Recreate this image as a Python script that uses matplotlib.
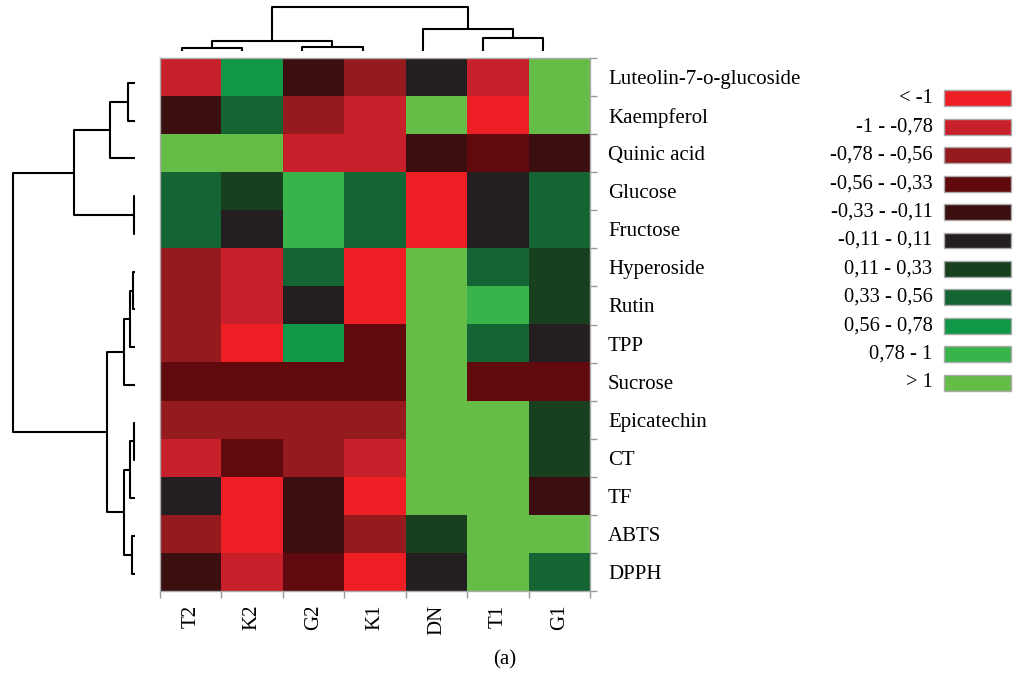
import numpy as np
import matplotlib.pyplot as plt
from matplotlib.colors import ListedColormap, BoundaryNorm
from matplotlib.patches import Rectangle

# Heatmap data (z-scores, read from picture as bin estimates)
samples = ['T2', 'K2', 'G2', 'K1', 'DN', 'T1', 'G1']
compounds = ['Luteolin-7-o-glucoside', 'Kaempferol', 'Quinic acid', 'Glucose',
             'Fructose', 'Hyperoside', 'Rutin', 'TPP', 'Sucrose', 'Epicatechin',
             'CT', 'TF', 'ABTS', 'DPPH']

luteolin = [-0.9, 0.67, -0.22, -0.67, 0.0, -0.9, 1.3]
kaempferol = [-0.22, 0.45, -0.67, -0.9, 1.3, -1.3, 1.3]
quinic = [1.3, 1.3, -0.9, -0.9, -0.22, -0.45, -0.22]
glucose = [0.45, 0.22, 0.9, 0.45, -1.3, 0.0, 0.45]
fructose = [0.45, 0.0, 0.9, 0.45, -1.3, 0.0, 0.45]
hyperoside = [-0.67, -0.9, 0.45, -1.3, 1.3, 0.45, 0.22]
rutin = [-0.67, -0.9, 0.0, -1.3, 1.3, 0.9, 0.22]
tpp = [-0.67, -1.3, 0.67, -0.45, 1.3, 0.45, 0.0]
sucrose = [-0.45, -0.45, -0.45, -0.45, 1.3, -0.45, -0.45]
epicatechin = [-0.67, -0.67, -0.67, -0.67, 1.3, 1.3, 0.22]
ct = [-0.9, -0.45, -0.67, -0.9, 1.3, 1.3, 0.22]
tf = [0.0, -1.3, -0.22, -1.3, 1.3, 1.3, -0.22]
abts = [-0.67, -1.3, -0.22, -0.67, 0.22, 1.3, 1.3]
dpph = [-0.22, -0.9, -0.45, -1.3, 0.0, 1.3, 0.45]

# colour classes
bin_edges = [-10, -1, -0.78, -0.56, -0.33, -0.11, 0.11, 0.33, 0.56, 0.78, 1, 10]
bin_labels = ['< -1', '-1 - -0,78', '-0,78 - -0,56', '-0,56 - -0,33', '-0,33 - -0,11',
              '-0,11 - 0,11', '0,11 - 0,33', '0,33 - 0,56', '0,56 - 0,78', '0,78 - 1', '> 1']
bin_colors = ['#ED1F24', '#C8202A', '#951A1E', '#600A0E', '#3B0E0F', '#231F20',
              '#18401F', '#156434', '#109747', '#39B44A', '#65BC46']

# dendrograms: (node a, node b, height); leaves are display positions
row_links = [(0, 1, 7), (14, 2, 25), (3, 4, 1), (15, 16, 61),
             (5, 6, 2), (18, 7, 5), (19, 8, 11), (9, 10, 1), (21, 11, 5),
             (12, 13, 3), (22, 23, 11), (20, 24, 28), (17, 25, 122)]
col_links = [(0, 1, 3.3), (2, 3, 4.3), (7, 8, 10), (5, 6, 13.3),
             (4, 10, 21.7), (9, 11, 44.3)]


def draw_dendro(ax, links, n, orient):
    pos = {i: float(i) for i in range(n)}
    hgt = {i: 0.0 for i in range(n)}
    for k, (a, b, h) in enumerate(links):
        xs = [pos[a], pos[a], pos[b], pos[b]]
        ys = [hgt[a], h, h, hgt[b]]
        if orient == 'left':
            ax.plot(ys, xs, color='black', lw=1.5, clip_on=False, solid_capstyle='butt')
        else:
            ax.plot(xs, ys, color='black', lw=1.5, clip_on=False, solid_capstyle='butt')
        pos[n + k] = (pos[a] + pos[b]) / 2
        hgt[n + k] = h
    ax.axis('off')


W, H = 1014, 675
fig = plt.figure(figsize=(W / 100, H / 100), dpi=100)
plt.rcParams['font.family'] = ['Liberation Serif', 'DejaVu Serif']


def px_axes(x0, y0, x1, y1):
    return fig.add_axes([x0 / W, 1 - y1 / H, (x1 - x0) / W, (y1 - y0) / H])


data = np.array([luteolin, kaempferol, quinic, glucose, fructose, hyperoside, rutin,
                 tpp, sucrose, epicatechin, ct, tf, abts, dpph])
cmap = ListedColormap(bin_colors)
norm = BoundaryNorm(bin_edges, cmap.N)

# heatmap
ax = px_axes(160, 58, 590, 591)
ax.imshow(data, cmap=cmap, norm=norm, aspect='auto', interpolation='nearest')
nr, nc = data.shape
ax.set_xticks(np.arange(nc + 1) - 0.5)
ax.set_yticks(np.arange(nr + 1) - 0.5)
ax.set_xticklabels([])
ax.set_yticklabels([])
ax.set_xticks(np.arange(nc), minor=True)
ax.set_yticks(np.arange(nr), minor=True)
ax.set_xticklabels(samples, minor=True, rotation=90, fontsize=15)
ax.set_yticklabels(compounds, minor=True, fontsize=15)
ax.tick_params(which='major', length=5, color='#999999', width=1)
ax.tick_params(axis='y', which='both', left=False, right=True, labelleft=False, labelright=True)
ax.tick_params(axis='x', which='minor', length=0, pad=10)
ax.tick_params(axis='y', which='minor', length=0, pad=13)
for s in ax.spines.values():
    s.set_color('#aaaaaa')
    s.set_linewidth(1)

# row dendrogram
step = (573.5 - 83) / 13
axr = px_axes(5, 83 - step / 2, 135, 573.5 + step / 2)
draw_dendro(axr, row_links, nr, 'left')
axr.set_xlim(130, 0)
axr.set_ylim(nr - 0.5, -0.5)

# column dendrogram
cstep = (543 - 182) / 6
axc = px_axes(182 - cstep / 2, 3, 543 + cstep / 2, 51)
draw_dendro(axc, col_links, nc, 'top')
axc.set_xlim(-0.5, nc - 0.5)
axc.set_ylim(0, 48)

# legend
axl = px_axes(820, 84, 1014, 397)
axl.set_xlim(0, 1)
axl.set_ylim(len(bin_labels) - 0.5, -0.5)
for i, (lab, col) in enumerate(zip(bin_labels, bin_colors)):
    axl.add_patch(Rectangle((0.64, i - 0.28), 0.345, 0.56, facecolor=col,
                            edgecolor='#aaaaaa', lw=1))
    axl.text(0.58, i, lab, ha='right', va='center', fontsize=14.8)
axl.axis('off')

fig.text(505 / W, 1 - 660 / H, '(a)', ha='center', va='center', fontsize=15)

fig.savefig('out.png', dpi=100)
